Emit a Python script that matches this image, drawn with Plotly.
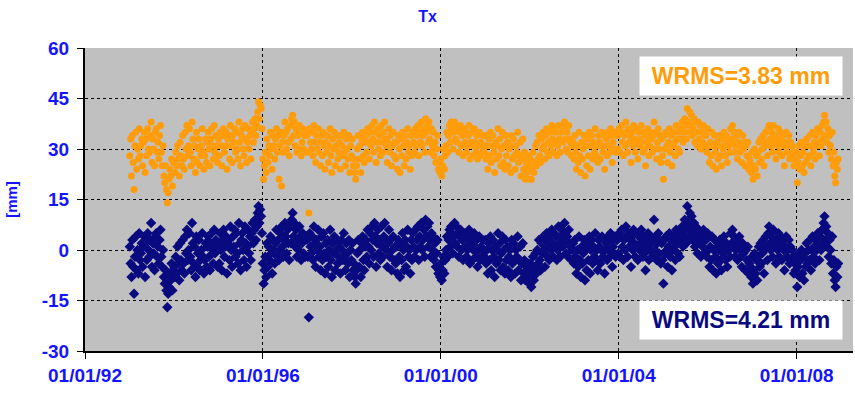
import pandas as pd
import plotly.graph_objects as go

# weekly Tx residuals [mm], 1993 - 2008 (one row per year)
navy_mm = [
    1, -4, -8, 3, -5, -13, -2, 4, -6, 0, -7, 5, -3, -1, 2, -5, 1, 4, -8, 2, -3, 5, 0, -2, 3, 8, -5, 2, -1, -6, 4, 5, -2, 1, -4, 3, 6, -2, -5, 0, -8, -10, -6, -12, -17, -13, -11, -7, -9, -4, -12, -6,
    -5, -8, -2, -7, 1, -4, -9, 2, -3, -6, 3, -4, -7, 4, -1, 6, -3, 0, 5, -2, -6, 8, 2, -4, 1, -8, 4, -5, -1, 3, -6, -3, 0, 5, -2, -7, -3, 2, -5, 1, 4, -2, -6, 2, 5, 0, -4, 6, -1, 3, 1, -5,
    2, -4, 5, 0, -6, 3, 6, -2, 1, 4, -7, 2, 3, -3, 7, 0, -5, 4, 1, 6, -2, 5, -1, -4, 8, 2, -6, 3, 5, 0, -3, 7, 2, -5, 1, 6, -1, 4, -3, 5, 8, 2, 6, 9, 3, 7, 11, 13, 8, 12, 10, 5,
    -4, -10, -6, -2, -8, 2, -5, 1, -3, 4, -1, -7, 3, 0, -4, 2, 6, -2, 3, -3, 0, 5, 7, 1, -2, 3, 8, 4, -1, 6, 2, -3, 7, 2, 9, 11, 4, 8, 1, 6, -2, 3, 0, 7, 4, -3, 2, 5, -1, 3, -2, 4,
    3, -2, -20, 5, 1, -1, 4, -3, 7, 2, -5, 3, 0, 6, -2, 1, -6, 4, -3, 5, -1, -7, 2, -2, 3, -5, 0, 6, -3, -8, 2, -1, 4, -6, 0, 3, -4, -2, 1, -7, 3, 0, -3, 5, -2, -6, 2, -1, -4, 3, -8, 0,
    -3, 2, -6, -4, -8, -10, -6, -1, 3, -5, 0, -8, 2, 4, -3, -6, 1, 3, -2, 6, 1, -4, 5, 0, 7, 3, -2, 8, 4, -5, 2, 6, -1, 3, -3, 7, 1, -2, 4, 8, 3, 0, -5, 2, 6, -2, 3, -6, 0, 4, -3, 1,
    -4, 1, -7, 3, -2, -8, 2, -3, 5, 0, -6, 3, -5, 1, 6, -2, 0, -7, 3, -3, 5, 1, -2, 6, 0, 3, 7, -3, 4, 1, 8, 0, 3, 6, -2, 9, 4, 7, 1, 8, 3, -2, 5, 0, 4, -3, 2, -5, -1, 3, -7, -6,
    -8, -4, -9, -6, -2, -7, -3, 0, 4, -2, 3, 6, 1, 7, 5, -1, 4, 8, 2, 7, 1, 5, -2, 4, 6, 0, 3, -3, 5, 1, 4, -2, 0, 3, 6, -4, 2, 4, -3, 0, 5, 1, -2, 3, -5, 0, 4, -3, 1, -2, 3, 0,
    -2, 3, -4, 0, -7, 2, -3, 4, -6, 0, 3, -2, -8, 1, -4, 0, 5, -3, 2, -6, -1, 4, -5, 0, -7, 3, -3, 1, -6, -2, 0, -8, 3, -4, 2, -3, -7, 0, -2, 4, -6, -3, 1, -9, -4, 2, -7, -3, -9, -5, -8, -4,
    -6, -10, -4, -11, -7, -2, -9, -5, -1, -7, 0, -4, 3, -3, -6, 2, -1, 4, 0, -5, 3, 5, -2, 1, -3, 4, 0, 6, 2, -2, 5, 1, 4, -3, 0, 7, 2, -2, 4, 6, 1, 5, 8, 3, -1, 4, -2, 6, 2, 1, -3, 0,
    2, -4, 3, -2, -7, 0, -5, 4, -3, -8, 1, -4, -1, 3, -9, 0, -6, 2, -3, 4, -7, 0, 3, -4, 1, -2, 5, -3, 0, -6, 3, 1, -4, 0, 4, -2, 3, -7, 0, 2, -3, 4, 0, -2, 5, 3, -5, 1, -1, 4, -2, 3,
    3, -1, 5, -2, 4, 6, 1, -3, 3, 0, 7, 4, -2, 5, 1, 3, -5, 4, 0, 6, 2, -2, 1, 5, -3, 4, 0, 2, 6, 1, -2, 4, -1, -6, 3, 1, 5, -3, 0, 4, 2, -2, 3, 9, 0, 4, -3, 2, 5, -1, 3, -4,
    2, -3, -10, 3, -1, 4, 0, -5, 1, 5, -2, 3, -6, 0, 4, 1, -3, 6, 2, -1, 4, -2, 5, 3, 7, 1, 4, 9, 6, 2, 13, 8, 4, 11, 6, 10, 3, 5, 8, 1, 7, 4, -1, 6, 2, 5, -2, 4, 1, 6, -1, 3,
    3, -2, 5, 0, -5, 1, -3, 4, -6, 0, 3, -2, -7, 1, -4, 0, 3, -3, -6, 2, -1, 4, 0, -3, 2, -5, 1, 0, -2, 5, 2, 6, 1, 4, -2, 0, 3, -3, 1, 4, -2, 0, -5, 2, -1, 1, -6, 0, -3, 1, -7, -4,
    -5, -8, -2, -10, -6, -1, -7, -3, -9, -2, 1, -5, 2, -4, -1, 3, -7, 0, 4, 1, -3, 5, 7, 2, 0, 4, -2, 6, 3, 1, -4, 2, 0, 5, -2, 4, 1, -3, 3, 0, -6, 1, 4, -2, 0, 3, -4, 1, -3, 0, -2, -7,
    -4, -6, -2, -11, -5, -1, -8, -3, 0, -7, -2, -9, -1, -5, 2, -4, 0, -3, 3, -6, 0, 4, -2, 1, -4, 3, 0, 5, 1, -3, 4, 0, 6, 2, 8, 10, 3, 7, 1, 5, -2, 3, 0, -4, 4, -7, -3, -9, -11, -5, -8, -4,
]

orange_mm = [
    28, 33, 22, 34, 26, 18, 31, 35, 24, 30, 27, 36, 28, 31, 33, 25, 32, 35, 23, 33, 28, 36, 30, 29, 34, 38, 26, 33, 30, 25, 35, 36, 29, 32, 27, 34, 37, 29, 25, 31, 22, 20, 25, 18, 14, 17, 21, 24, 22, 27, 19, 26,
    26, 23, 29, 25, 31, 27, 22, 32, 28, 25, 34, 27, 24, 35, 30, 37, 28, 31, 36, 29, 25, 38, 33, 27, 31, 23, 35, 26, 30, 33, 25, 28, 31, 36, 29, 24, 28, 33, 26, 32, 35, 30, 25, 33, 36, 31, 27, 37, 29, 34, 31, 26,
    33, 28, 35, 31, 25, 34, 36, 29, 31, 35, 24, 33, 34, 27, 37, 31, 26, 34, 32, 36, 29, 35, 30, 27, 38, 32, 25, 34, 36, 30, 28, 37, 33, 26, 32, 36, 30, 34, 27, 35, 38, 32, 36, 39, 34, 37, 41, 44, 39, 43, 42, 36,
    27, 21, 25, 29, 23, 33, 26, 31, 28, 35, 30, 24, 34, 31, 27, 33, 36, 29, 34, 21, 31, 35, 19, 32, 29, 34, 38, 35, 30, 36, 32, 28, 37, 33, 39, 40, 34, 38, 31, 36, 29, 34, 30, 37, 35, 28, 32, 36, 30, 34, 29, 35,
    34, 29, 11, 36, 32, 30, 35, 28, 37, 32, 26, 34, 30, 36, 29, 32, 25, 34, 28, 35, 31, 24, 32, 29, 34, 26, 31, 36, 28, 23, 33, 30, 35, 25, 31, 34, 27, 29, 32, 24, 34, 31, 28, 35, 29, 25, 33, 30, 27, 34, 23, 31,
    28, 33, 25, 27, 23, 21, 25, 30, 34, 27, 31, 23, 33, 35, 28, 26, 32, 34, 29, 36, 32, 27, 35, 31, 37, 33, 29, 38, 35, 26, 32, 36, 30, 34, 28, 37, 32, 29, 35, 38, 33, 31, 26, 32, 36, 29, 34, 25, 31, 35, 28, 32,
    27, 32, 24, 34, 30, 23, 33, 28, 35, 31, 25, 34, 27, 32, 36, 29, 31, 24, 34, 28, 35, 32, 29, 36, 31, 34, 37, 28, 35, 32, 38, 31, 34, 36, 29, 39, 35, 37, 32, 38, 33, 29, 36, 31, 35, 28, 32, 26, 30, 34, 24, 26,
    23, 27, 22, 25, 30, 24, 28, 31, 35, 29, 34, 37, 32, 38, 36, 30, 35, 38, 33, 37, 32, 36, 29, 35, 37, 31, 34, 28, 36, 32, 35, 29, 31, 34, 37, 27, 32, 35, 28, 31, 36, 32, 29, 34, 27, 31, 35, 28, 32, 29, 34, 31,
    29, 34, 27, 31, 24, 33, 28, 35, 26, 31, 34, 29, 23, 32, 27, 31, 36, 28, 33, 25, 30, 35, 26, 31, 24, 34, 28, 32, 25, 30, 31, 23, 34, 27, 33, 28, 24, 31, 29, 35, 26, 28, 32, 22, 27, 33, 24, 29, 21, 26, 23, 28,
    25, 21, 27, 21, 24, 29, 23, 26, 31, 25, 32, 27, 34, 28, 26, 33, 30, 35, 31, 27, 34, 36, 29, 32, 28, 35, 31, 37, 33, 29, 36, 32, 35, 28, 31, 37, 33, 29, 35, 37, 32, 36, 38, 33, 30, 35, 29, 37, 33, 32, 28, 31,
    32, 27, 34, 29, 24, 31, 26, 35, 28, 23, 32, 27, 30, 34, 22, 31, 25, 33, 28, 35, 24, 31, 34, 27, 32, 29, 36, 28, 31, 26, 34, 32, 27, 31, 35, 29, 34, 24, 31, 33, 28, 35, 31, 29, 36, 34, 26, 32, 30, 35, 29, 34,
    34, 30, 36, 29, 35, 37, 32, 28, 34, 31, 38, 35, 29, 36, 32, 34, 26, 35, 31, 37, 33, 29, 32, 36, 27, 35, 31, 33, 37, 32, 29, 35, 30, 25, 34, 32, 36, 28, 31, 35, 33, 29, 34, 38, 30, 35, 27, 32, 36, 30, 34, 26,
    33, 28, 21, 34, 30, 35, 31, 26, 32, 36, 29, 34, 25, 31, 35, 32, 28, 37, 33, 30, 35, 29, 36, 33, 38, 32, 35, 39, 37, 33, 42, 38, 35, 41, 37, 40, 34, 36, 39, 32, 38, 35, 31, 38, 33, 37, 30, 35, 32, 37, 31, 34,
    34, 29, 36, 31, 26, 32, 28, 35, 25, 31, 34, 29, 24, 32, 27, 31, 34, 28, 25, 33, 30, 35, 31, 28, 34, 26, 32, 31, 29, 36, 33, 37, 32, 35, 29, 31, 34, 27, 32, 35, 29, 31, 26, 34, 30, 32, 25, 31, 28, 32, 24, 27,
    26, 23, 29, 21, 25, 30, 24, 28, 22, 29, 32, 26, 33, 27, 30, 34, 25, 31, 35, 32, 28, 36, 37, 33, 31, 35, 29, 37, 34, 32, 27, 33, 31, 36, 29, 35, 32, 28, 34, 31, 25, 32, 35, 29, 31, 34, 27, 32, 28, 31, 29, 25,
    27, 25, 29, 20, 26, 31, 24, 28, 32, 25, 29, 23, 31, 26, 33, 27, 31, 28, 34, 25, 31, 35, 29, 32, 27, 34, 31, 36, 32, 28, 35, 31, 37, 33, 38, 40, 34, 38, 32, 36, 29, 34, 31, 27, 35, 25, 29, 22, 20, 26, 24, 27,
]

wrms_labels = ["WRMS=3.83 mm", "WRMS=4.21 mm"]
tick_dates = ["1992-01-01", "1996-01-01", "2000-01-01", "2004-01-01", "2008-01-01"]
y_ticks = [-30, -15, 0, 15, 30, 45, 60]
y_ticktext = ["-30", "-15", "0", "15", "30", "45", "60"]

# one solution per week starting early 1993
navy_dates = pd.date_range("1993-01-03", periods=len(navy_mm), freq="7D")
orange_dates = pd.date_range("1993-01-03", periods=len(orange_mm), freq="7D")

blue = "#1414FF"
orange = "#FF9C0A"
navy = "#0A0A80"
font = "Liberation Sans, Arial, sans-serif"

fig = go.Figure()
fig.add_trace(go.Scatter(x=orange_dates, y=orange_mm, mode="markers",
                         marker=dict(color=orange, size=7, symbol="circle")))
fig.add_trace(go.Scatter(x=navy_dates, y=navy_mm, mode="markers",
                         marker=dict(color=navy, size=8, symbol="diamond")))

fig.update_layout(
    width=855, height=393,
    margin=dict(l=85, r=2, t=48, b=42),
    paper_bgcolor="white",
    plot_bgcolor="#C0C0C0",
    showlegend=False,
    title=dict(text="Tx", x=0.5, xanchor="center", yref="container",
               y=0.957, yanchor="middle", automargin=False,
               font=dict(family=font, size=16, color=blue, weight="bold")),
    xaxis=dict(
        type="date",
        range=["1992-01-01", "2009-04-08"],
        tickvals=tick_dates,
        tickformat="%m/%d/%y",
        tickfont=dict(family=font, size=19, color=blue, weight="bold"),
        showgrid=True, gridcolor="black", gridwidth=1, griddash="3px,3px",
        showline=True, linecolor="black", linewidth=2,
        ticks="outside", ticklen=6, tickcolor="black",
        zeroline=False, automargin=False,
    ),
    yaxis=dict(
        range=[-30, 60],
        tickvals=y_ticks, ticktext=y_ticktext,
        tickfont=dict(family=font, size=19, color=blue, weight="bold"),
        title=dict(text="[mm]", standoff=20,
                   font=dict(family=font, size=15, color=blue, weight="bold")),
        showgrid=True, gridcolor="black", gridwidth=1, griddash="3px,3px",
        showline=True, linecolor="black", linewidth=2,
        ticks="outside", ticklen=6, tickcolor="black",
        ticklabelstandoff=4,
        zeroline=False, automargin=False,
    ),
)

fig.add_annotation(x=0.854, y=0.908, xref="paper", yref="paper",
                   xanchor="center", yanchor="middle",
                   text="<b>" + wrms_labels[0] + "</b>", showarrow=False,
                   font=dict(family=font, size=23, color=orange),
                   bgcolor="white", width=200, height=36)
fig.add_annotation(x=0.854, y=0.102, xref="paper", yref="paper",
                   xanchor="center", yanchor="middle",
                   text="<b>" + wrms_labels[1] + "</b>", showarrow=False,
                   font=dict(family=font, size=23, color=navy),
                   bgcolor="white", width=200, height=36)

# drop the default 8px page margin so the figure sits at the window origin
fig.write_html("out.html", config={"displayModeBar": False},
               post_script="document.body.style.margin = '0';")
